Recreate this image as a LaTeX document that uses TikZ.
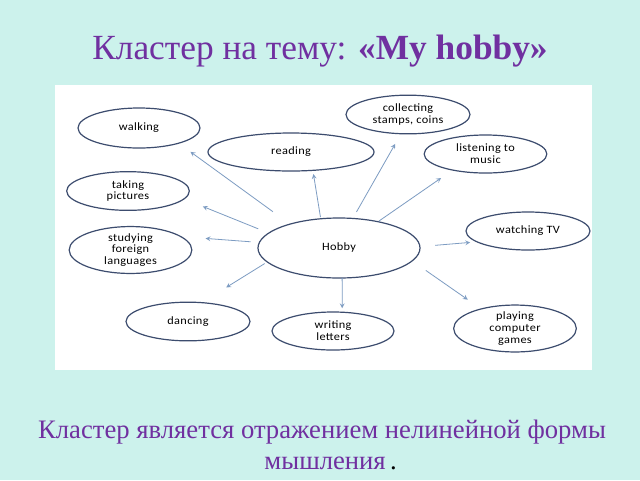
\documentclass[tikz,border=0pt]{standalone}
\usepackage{fontspec}
\usetikzlibrary{shapes.geometric}
\setmainfont{Liberation Serif}
\newfontfamily\nodefont[FakeStretch=1.1,LetterSpace=3]{Carlito}
\definecolor{mintbg}{HTML}{CCF2EC}
\definecolor{titlepurple}{HTML}{7030A0}
\definecolor{ellline}{HTML}{3C4C6E}
\definecolor{arrline}{HTML}{7D9CC2}
\begin{document}
\begin{tikzpicture}[x=0.75pt,y=-0.75pt,
    item/.style={ellipse,draw=ellline,line width=0.9pt,fill=white,inner sep=0pt,outer sep=0pt,
      minimum width=92pt,minimum height=29pt,align=center,
      font=\nodefont\fontsize{8.4}{8.8}\selectfont},
    arr/.style={->,>=stealth,draw=arrline,line width=0.6pt},
    slidetext/.style={text=titlepurple,align=center,anchor=base}]
  \fill[mintbg] (0,0) rectangle (640,480);
  \useasboundingbox (0,0) rectangle (640,480);
  \fill[white] (55,85) rectangle (592,370);
  \node[slidetext,font=\fontsize{26.5}{28}\selectfont] (title) at (320,59.3) {Кластер на тему: \textbf{«My hobby»}};
  \node[item,minimum width=121.5pt,minimum height=45pt] (hobby) at (339,248) {Hobby};
  \node[item,minimum width=91.5pt,minimum height=30pt] (walking) at (139,128) {walking};
  \node[item,minimum width=124.5pt,minimum height=28.5pt] (reading) at (291,152) {reading};
  \node[item,minimum width=93pt] (collecting) at (408,114.5) {collecting\\stamps, coins};
  \node[item,minimum height=28.5pt] (listening) at (485.5,154) {listening to\\music};
  \node[item] (taking) at (128,191) {taking\\pictures};
  \node[item,minimum height=30pt] (studying) at (130.5,250) {studying\\foreign\\languages};
  \node[item,minimum width=93pt,minimum height=28.5pt] (watching) at (528,231) {watching TV};
  \node[item,minimum width=93pt] (dancing) at (188,321.5) {dancing};
  \node[item,minimum width=91.5pt,minimum height=28.5pt] (writing) at (333,331) {writing\\letters};
  \node[item,minimum height=30pt] (playing) at (515,328.5) {playing\\computer\\games};
  \foreach \tgt/\from/\to/\gapa/\gapb in {walking/154.7/-21.4/15.8/11,taking/168.1/-8.9/8.5/15.2,
      reading/122.6/-40.5/1.3/2.8,collecting/65.8/-110.4/5.6/8.8,listening/34.6/-154.1/0.8/10.5,
      studying/176.9/15.7/6.6/18.7,dancing/-169.5/54.5/2.3/21.6,writing/-84.3/64.4/0/3,
      watching/1.1/-168/11.4/5.2,playing/-10.7/150.3/12.5/12.2}
    \draw[arr,shorten <=\gapa pt,shorten >=\gapb pt] (hobby.\from) -- (\tgt.\to);
  \node[slidetext,font=\fontsize{20}{23.25}\selectfont] (summary) at (322,469) {Кластер является отражением нелинейной формы\\\hspace*{13pt}мышления\,{\color{black}.}};
\end{tikzpicture}
\end{document}
